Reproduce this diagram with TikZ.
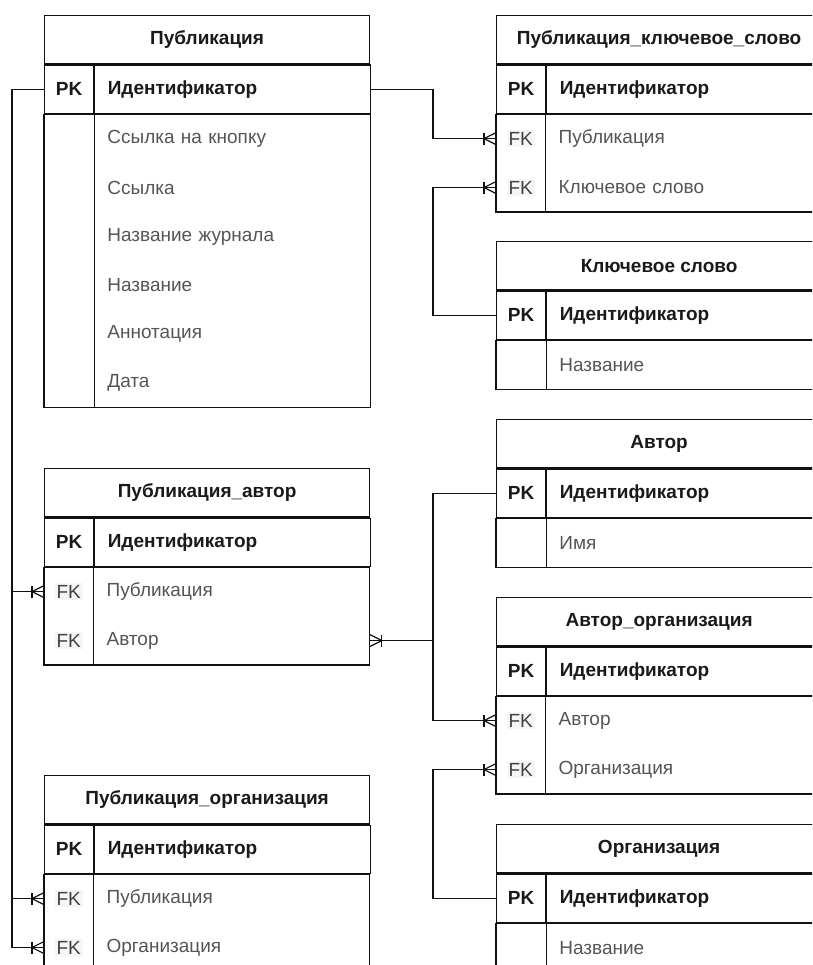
\documentclass[tikz,border=0pt]{standalone}
\usepackage{fontspec}
\setmainfont{Liberation Sans}
\usetikzlibrary{calc}
\definecolor{txtdark}{HTML}{1A1A1A}
\definecolor{txtgray}{HTML}{555555}
\definecolor{fkgray}{HTML}{404040}
\definecolor{fkbg}{HTML}{F5F5F5}
\definecolor{linec}{HTML}{111111}
\newcommand{\fs}{\fontsize{19}{22}\selectfont}
\tikzset{
  tbl/.style={draw=linec, line width=1.2pt},
  conn/.style={draw=linec, line width=1.2pt},
  hdr/.style={tbl, minimum width=325pt, minimum height=48.3pt, anchor=north west, inner sep=0pt, font=\fs\bfseries, text=txtdark},
  keyc/.style={minimum width=49pt, minimum height=48.5pt, anchor=north west, inner sep=0pt},
  fldc/.style={minimum height=48.5pt, text width=250pt, inner xsep=13pt, inner ysep=0pt, anchor=north west, align=left},
  pkk/.style={keyc, tbl, font=\fs\bfseries, text=txtdark},
  pkf/.style={fldc, tbl, font=\fs\bfseries, text=txtdark},
  fkk/.style={keyc, font=\fs, text=fkgray},
  plainf/.style={fldc, font=\fs, text=txtgray},
}
\newcommand{\fkt}{\setlength{\fboxsep}{2pt}\colorbox{fkbg}{FK}}
\newcommand{\crowL}[1]{%
  \draw[conn] ([xshift=-12pt,yshift=-6pt]#1) -- ([xshift=-12pt,yshift=6pt]#1);
  \draw[conn] ([yshift=6pt]#1) -- ([xshift=-12pt]#1) -- ([yshift=-6pt]#1);}
\newcommand{\crowR}[1]{%
  \draw[conn] ([xshift=12pt,yshift=-6pt]#1) -- ([xshift=12pt,yshift=6pt]#1);
  \draw[conn] ([yshift=6pt]#1) -- ([xshift=12pt]#1) -- ([yshift=-6pt]#1);}
\begin{document}
\begin{tikzpicture}[x=1pt,y=-1pt]
\useasboundingbox (0,0) rectangle (812,965);
\fill[white] (0,0) rectangle (812,965);
\clip (0,0) rectangle (812,965);

% ---------- Публикация ----------
\node[hdr] (pubH) at (44,15) {Публикация};
\node[pkk] (pubPKk) at (pubH.south west) {PK};
\node[pkf] (pubPK) at (pubPKk.north east) {Идентификатор};
\node[plainf] (pubF1) at (pubPKk.south east) {Ссылка на кнопку};
\node[plainf] (pubF2) at (pubF1.south west) {Ссылка};
\node[plainf] (pubF3) at (pubF2.south west) {Название журнала};
\node[plainf] (pubF4) at (pubF3.south west) {Название};
\node[plainf] (pubF5) at (pubF4.south west) {Аннотация};
\node[plainf] (pubF6) at (pubF5.south west) {Дата};
\draw[tbl] (pubPKk.south west) rectangle (pubF6.south east);
\draw[tbl] (pubPKk.south east) -- (pubF6.south west);

% ---------- Публикация_автор ----------
\node[hdr] (paH) at (44,468) {Публикация\_автор};
\node[pkk] (paPKk) at (paH.south west) {PK};
\node[pkf] (paPK) at (paPKk.north east) {Идентификатор};
\node[fkk] (paK1) at (paPKk.south west) {\fkt};
\node[plainf] (paF1) at (paK1.north east) {Публикация};
\node[fkk] (paK2) at (paK1.south west) {\fkt};
\node[plainf] (paF2) at (paK2.north east) {Автор};
\draw[tbl] (paK1.north west) rectangle (paF2.south east);
\draw[tbl] (paK1.north east) -- (paK2.south east);

% ---------- Публикация_организация ----------
\node[hdr] (poH) at (44,775) {Публикация\_организация};
\node[pkk] (poPKk) at (poH.south west) {PK};
\node[pkf] (poPK) at (poPKk.north east) {Идентификатор};
\node[fkk] (poK1) at (poPKk.south west) {\fkt};
\node[plainf] (poF1) at (poK1.north east) {Публикация};
\node[fkk] (poK2) at (poK1.south west) {\fkt};
\node[plainf] (poF2) at (poK2.north east) {Организация};
\draw[tbl] (poK1.north west) rectangle (poF2.south east);
\draw[tbl] (poK1.north east) -- (poK2.south east);

% ---------- Публикация_ключевое_слово ----------
\node[hdr] (pksH) at (496,15) {Публикация\_ключевое\_слово};
\node[pkk] (pksPKk) at (pksH.south west) {PK};
\node[pkf] (pksPK) at (pksPKk.north east) {Идентификатор};
\node[fkk] (pksK1) at (pksPKk.south west) {\fkt};
\node[plainf] (pksF1) at (pksK1.north east) {Публикация};
\node[fkk] (pksK2) at (pksK1.south west) {\fkt};
\node[plainf] (pksF2) at (pksK2.north east) {Ключевое слово};
\draw[tbl] (pksK1.north west) rectangle (pksF2.south east);
\draw[tbl] (pksK1.north east) -- (pksK2.south east);

% ---------- Ключевое слово ----------
\node[hdr] (kwH) at (496,241) {Ключевое слово};
\node[pkk] (kwPKk) at (kwH.south west) {PK};
\node[pkf] (kwPK) at (kwPKk.north east) {Идентификатор};
\node[plainf] (kwF1) at (kwPKk.south east) {Название};
\draw[tbl] (kwPKk.south west) rectangle (kwF1.south east);
\draw[tbl] (kwPKk.south east) -- (kwF1.south west);

% ---------- Автор ----------
\node[hdr] (auH) at (496,419) {Автор};
\node[pkk] (auPKk) at (auH.south west) {PK};
\node[pkf] (auPK) at (auPKk.north east) {Идентификатор};
\node[plainf] (auF1) at (auPKk.south east) {Имя};
\draw[tbl] (auPKk.south west) rectangle (auF1.south east);
\draw[tbl] (auPKk.south east) -- (auF1.south west);

% ---------- Автор_организация ----------
\node[hdr] (aoH) at (496,597) {Автор\_организация};
\node[pkk] (aoPKk) at (aoH.south west) {PK};
\node[pkf] (aoPK) at (aoPKk.north east) {Идентификатор};
\node[fkk] (aoK1) at (aoPKk.south west) {\fkt};
\node[plainf] (aoF1) at (aoK1.north east) {Автор};
\node[fkk] (aoK2) at (aoK1.south west) {\fkt};
\node[plainf] (aoF2) at (aoK2.north east) {Организация};
\draw[tbl] (aoK1.north west) rectangle (aoF2.south east);
\draw[tbl] (aoK1.north east) -- (aoK2.south east);

% ---------- Организация ----------
\node[hdr] (orH) at (496,824) {Организация};
\node[pkk] (orPKk) at (orH.south west) {PK};
\node[pkf] (orPK) at (orPKk.north east) {Идентификатор};
\node[plainf] (orF1) at (orPKk.south east) {Название};
\draw[tbl] (orPKk.south west) rectangle (orF1.south east);
\draw[tbl] (orPKk.south east) -- (orF1.south west);

% ---------- connectors ----------
\coordinate (lt) at (12,0);
\coordinate (mid) at (433,0);

\draw[conn] (pubPKk.west) -| (lt |- poK2.west) -- (poK2.west);
\draw[conn] (lt |- paK1.west) -- (paK1.west);
\draw[conn] (lt |- poK1.west) -- (poK1.west);
\crowL{paK1.west}
\crowL{poK1.west}
\crowL{poK2.west}

\draw[conn] (pubPK.east) -| (mid |- pksK1.west) -- (pksK1.west);
\crowL{pksK1.west}
\draw[conn] (kwPKk.west) -| (mid |- pksK2.west) -- (pksK2.west);
\crowL{pksK2.west}

\draw[conn] (auPKk.west) -| (mid |- aoK1.west) -- (aoK1.west);
\crowL{aoK1.west}
\draw[conn] (mid |- paF2.east) -- (paF2.east);
\crowR{paF2.east}

\draw[conn] (orPKk.west) -| (mid |- aoK2.west) -- (aoK2.west);
\crowL{aoK2.west}
\end{tikzpicture}
\end{document}
